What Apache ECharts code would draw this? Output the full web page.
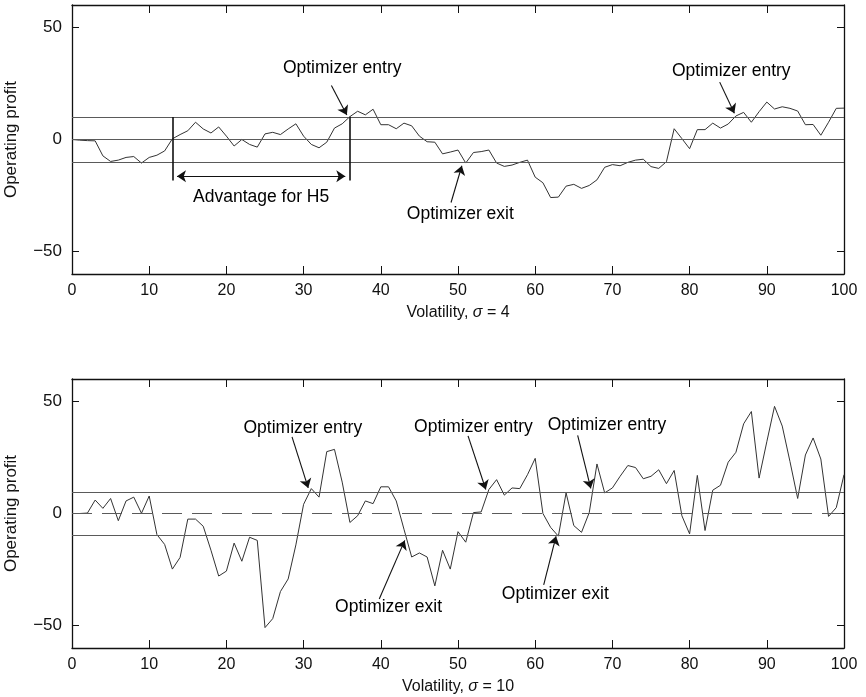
<!DOCTYPE html>
<html>
<head>
<meta charset="utf-8">
<script src="https://cdn.jsdelivr.net/npm/echarts@6/dist/echarts.min.js"></script>
<style>
  html, body { margin: 0; padding: 0; background: #fff; }
  #main { width: 866px; height: 697px; }
</style>
</head>
<body>
<div id="main"></div>
<script>
// operating profit per volatility step (0..100)
var profitLow = [
    0, -0.3, -0.5, -0.6, -7.3, -9.8, -9.2, -8.0, -7.6, -10.5,
    -8.0, -7.0, -5.1, 0.3, 2.2, 3.9, 7.7, 4.7, 2.9, 5.6,
    1.5, -2.9, 0, -2.2, -3.4, 2.5, 3.2, 2.2, 4.7, 7.0,
    1.5, -2.2, -3.7, -1.2, 5.1, 7.0, 10.2, 12.6, 11.0, 13.5,
    6.6, 6.6, 4.8, 7.3, 6.1, 1.5, -1.0, -1.2, -6.4, -5.6,
    -4.7, -10.5, -5.8, -5.4, -4.7, -10.5, -12.0, -11.4, -10.2, -9.2,
    -16.8, -19.3, -25.9, -25.7, -20.8, -20.0, -21.8, -20.5, -18.0, -12.4,
    -11.2, -11.7, -10.2, -9.2, -8.8, -12.1, -12.9, -9.9, 4.8, 0.4,
    -4.1, 4.4, 4.4, 7.3, 5.1, 6.9, 10.5, 12.1, 7.7, 12.4,
    16.7, 13.6, 14.6, 13.9, 12.7, 6.6, 6.7, 1.9, 7.7, 13.9,
    14.0
];
var profitHigh = [
    0, 0, 0.2, 6.0, 2.3, 6.7, -3.2, 5.6, 7.3, 0.1,
    7.8, -9.4, -13.8, -24.8, -19.6, -2.5, -2.5, -5.7, -16.4, -27.9,
    -25.7, -13.2, -21.3, -10.6, -12.0, -50.9, -46.9, -34.8, -29.2, -14,
    4.1, 11.1, 7.3, 27.6, 28.6, 14, -4.0, -1.0, 5.6, 4.4,
    11.9, 11.9, 5.6, -7, -19.4, -17.6, -19.4, -32.3, -16.4, -24.8,
    -8.1, -12.8, 0.4, 0.7, 10.7, 15.1, 8.2, 11.4, 11.1, 17.3,
    24.6, 0, -6.2, -10.1, 9.2, -5.4, -8.4, 0.4, 22.1, 9.2,
    11.4, 16.6, 21.4, 20.5, 15.5, 16.6, 19.5, 13.3, 19.2, -1.0,
    -9.1, 17.0, -7.6, 10.4, 12.6, 22.9, 27.3, 40.0, 45.5, 15.8,
    32, 47.8, 39.0, 23.2, 6.7, 26.1, 33.7, 24.3, -1.3, 2.6,
    17.3
];

var bandLow = 10;
var bandHigh = 9.5;
var yTicks = [-50, 0, 50];

// annotation texts [x, y, text]
var notesLow = [
    [35.0, 32, 'Optimizer entry'],
    [85.4, 30.7, 'Optimizer entry'],
    [50.3, -33.3, 'Optimizer exit'],
    [24.5, -25.6, 'Advantage for H5']
];
var notesHigh = [
    [29.9, 38.1, 'Optimizer entry'],
    [52.0, 38.6, 'Optimizer entry'],
    [69.3, 39.3, 'Optimizer entry'],
    [41.0, -42.0, 'Optimizer exit'],
    [62.6, -36.2, 'Optimizer exit']
];
// arrows [x1, y1, x2, y2]
var arrowsLow = [
    [33.6, 24.1, 35.6, 10.9],
    [83.9, 25.6, 85.8, 11.7],
    [49.1, -28.1, 50.5, -11.7]
];
var arrowsHigh = [
    [28.5, 34.2, 30.6, 11.4],
    [51.3, 34.6, 53.6, 10.7],
    [65.5, 34.9, 67.2, 11.2],
    [39.8, -38.1, 43.1, -12.0],
    [61.1, -31.8, 62.7, -10.2]
];
// advantage span: vertical bars and the double arrow
var spanBars = [[13, 10, 13, -18.3], [36, 10.2, 36, -18.3]];
var spanArrow = [13.6, -16.4, 35.4, -16.4];

var FONT = "'Liberation Sans', Arial, Helvetica, sans-serif";
var NARROW = "'Liberation Sans Narrow', 'Liberation Sans', Arial, sans-serif";
var INK = '#111';

function minus(v) {
    return v < 0 ? '\u2212' + Math.abs(v) : String(v);
}

function toPoints(arr) {
    return arr.map(function (v, i) { return [i, v]; });
}

function seg(a, startSym, endSym, style) {
    var s = {coord: [a[0], a[1]]};
    var e = {coord: [a[2], a[3]]};
    if (startSym) s.symbol = startSym;
    if (endSym) e.symbol = endSym;
    if (style) s.lineStyle = style;
    return [s, e];
}

function xAxes(grid, title) {
    return [{
        type: 'value', gridIndex: grid, position: 'bottom',
        min: 0, max: 100, interval: 10,
        name: title, nameLocation: 'middle', nameGap: 31,
        nameTextStyle: {
            fontFamily: NARROW, fontSize: 16, color: INK,
            rich: {i: {fontFamily: NARROW, fontSize: 16, fontStyle: 'italic', color: INK}}
        },
        axisLine: {onZero: false, lineStyle: {color: INK, width: 1.3}},
        axisTick: {inside: true, length: 8, lineStyle: {color: INK}},
        axisLabel: {fontFamily: NARROW, fontSize: 16, color: INK, margin: 9},
        splitLine: {show: false}
    }, {
        type: 'value', gridIndex: grid, position: 'top',
        min: 0, max: 100, interval: 10,
        axisLine: {onZero: false, lineStyle: {color: INK, width: 1.3}},
        axisTick: {inside: true, length: 8, lineStyle: {color: INK}},
        axisLabel: {show: false},
        splitLine: {show: false}
    }];
}

function yAxes(grid) {
    return [{
        type: 'value', gridIndex: grid, position: 'left',
        min: -60, max: 60,
        name: 'Operating profit', nameLocation: 'middle', nameGap: 52,
        nameTextStyle: {fontFamily: FONT, fontSize: 17, color: INK},
        axisLine: {onZero: false, lineStyle: {color: INK, width: 1.3}},
        axisTick: {inside: true, length: 7, customValues: yTicks, lineStyle: {color: INK}},
        axisLabel: {fontFamily: FONT, fontSize: 17, color: INK, margin: 10,
            customValues: yTicks, formatter: minus},
        splitLine: {show: false}
    }, {
        type: 'value', gridIndex: grid, position: 'right',
        min: -60, max: 60,
        axisLine: {onZero: false, lineStyle: {color: INK, width: 1.3}},
        axisTick: {inside: true, length: 7, customValues: yTicks, lineStyle: {color: INK}},
        axisLabel: {show: false, customValues: yTicks},
        splitLine: {show: false}
    }];
}

function bandLines(band, dashedZero) {
    return {
        silent: true, symbol: 'none',
        label: {show: false},
        lineStyle: {color: '#5a5a5a', width: 1, type: 'solid'},
        data: [
            {yAxis: band},
            {yAxis: 0, lineStyle: dashedZero ? {type: [20, 10], color: '#5a5a5a'} : {}},
            {yAxis: -band}
        ]
    };
}

function noteSeries(xi, yi, notes, arrows, extraLines) {
    var lines = arrows.map(function (a) { return seg(a); });
    if (extraLines) lines = lines.concat(extraLines);
    return {
        type: 'scatter', xAxisIndex: xi, yAxisIndex: yi,
        symbolSize: 0, silent: true, z: 5,
        itemStyle: {opacity: 1},
        data: notes,
        label: {
            show: true, position: 'inside', opacity: 1,
            fontFamily: FONT, fontSize: 17.5, color: '#000',
            textBorderWidth: 0,
            formatter: function (p) { return p.value[2]; }
        },
        markLine: {
            silent: true, symbol: ['none', 'arrow'], symbolSize: 9,
            label: {show: false},
            lineStyle: {color: INK, width: 1.1, type: 'solid'},
            data: lines
        }
    };
}

var spanLines = spanBars.map(function (b) {
    return seg(b, 'none', 'none', {width: 1.6, color: INK});
});
spanLines.push(seg(spanArrow, 'arrow', 'arrow'));

var chart = echarts.init(document.getElementById('main'), null, {renderer: 'canvas'});

var option = {
    animation: false,
    backgroundColor: '#fff',
    grid: [
        {left: 72, right: 22, top: 5, height: 269, outerBoundsMode: 'none', containLabel: false},
        {left: 72, right: 22, top: 379, height: 269, outerBoundsMode: 'none', containLabel: false}
    ],
    xAxis: xAxes(0, 'Volatility, {i|\u03c3} = 4').concat(xAxes(1, 'Volatility, {i|\u03c3} = 10')),
    yAxis: yAxes(0).concat(yAxes(1)),
    series: [
        {
            type: 'line', xAxisIndex: 0, yAxisIndex: 0,
            data: toPoints(profitLow), symbol: 'none',
            lineStyle: {color: '#333', width: 1},
            markLine: bandLines(bandLow, false)
        },
        {
            type: 'line', xAxisIndex: 2, yAxisIndex: 2,
            data: toPoints(profitHigh), symbol: 'none',
            lineStyle: {color: '#333', width: 1},
            markLine: bandLines(bandHigh, true)
        },
        noteSeries(0, 0, notesLow, arrowsLow, spanLines),
        noteSeries(2, 2, notesHigh, arrowsHigh)
    ]
};
chart.setOption(option);
</script>
</body>
</html>
